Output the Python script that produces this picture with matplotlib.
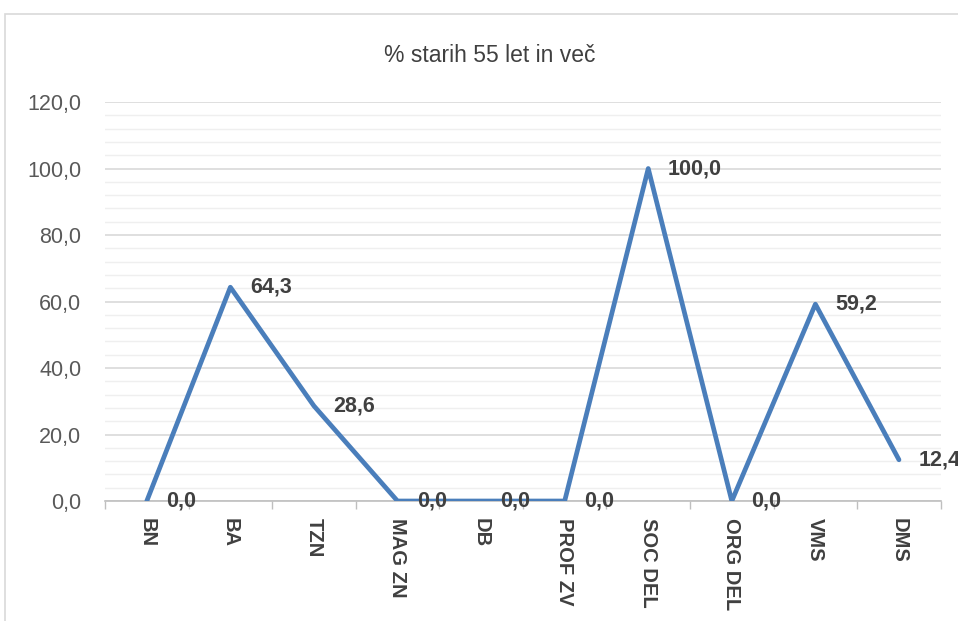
import matplotlib
matplotlib.use("Agg")
import matplotlib.pyplot as plt
from matplotlib.patches import Rectangle
import numpy as np

categories = ['BN', 'BA', 'TZN', 'MAG ZN', 'DB', 'PROF ZV', 'SOC DEL', 'ORG DEL', 'VMS', 'DMS']
values = [0.0, 64.3, 28.6, 0.0, 0.0, 0.0, 100.0, 0.0, 59.2, 12.4]
title = '% starih 55 let in več'

plt.rcParams['font.family'] = ['Liberation Sans', 'DejaVu Sans']

fig = plt.figure(figsize=(9.58, 6.21), dpi=100)
ax = fig.add_axes([0.1096, 0.1932, 0.8724, 0.6425])

# chart frame (cut off on the right, like the screenshot)
fig.patches.append(Rectangle((5 / 958, -0.05), 1.2, 1 - 14 / 621 + 0.05,
                             transform=fig.transFigure, fill=False,
                             edgecolor='#d9d9d9', linewidth=1.2))

x = np.arange(len(categories))
ax.plot(x, values, color='#4a7ebb', linewidth=3.4,
        solid_joinstyle='round', solid_capstyle='round', zorder=3)

for xi, v in zip(x, values):
    ax.annotate(f'{v:.1f}'.replace('.', ','), (xi, v), xytext=(14, 0),
                textcoords='offset points', ha='left', va='center',
                fontsize=15.5, fontweight='bold', color='#404040',
                annotation_clip=False, zorder=4)

ax.set_xlim(-0.5, len(categories) - 0.5)
ax.set_ylim(0, 120)
ax.set_yticks(np.arange(0, 121, 20))
ax.set_yticks(np.arange(0, 121, 4), minor=True)
ax.set_yticklabels([f'{t:.1f}'.replace('.', ',') for t in np.arange(0, 121, 20)])
ax.grid(axis='y', which='major', color='#d9d9d9', linewidth=1.2)
ax.grid(axis='y', which='minor', color='#efefef', linewidth=1.0)
ax.set_axisbelow(True)

ax.set_xticks(x)
ax.set_xticklabels(categories, rotation=-90, fontsize=14.5, fontweight='bold',
                   color='#404040', va='top', ha='center')
ax.set_xticks(np.arange(-0.5, len(categories)), minor=True)
ax.tick_params(axis='x', which='major', length=0, pad=12)
ax.tick_params(axis='x', which='minor', length=6, color='#bfbfbf', width=1)
ax.tick_params(axis='y', which='both', length=0, pad=17, labelsize=15.5,
               labelcolor='#595959')

for side in ['top', 'right', 'left']:
    ax.spines[side].set_visible(False)
ax.spines['bottom'].set_color('#bfbfbf')
ax.spines['bottom'].set_linewidth(1.2)

fig.text(0.511, 1 - 55 / 621, title, ha='center', va='center',
         fontsize=16.5, color='#404040')

fig.savefig('out.png', dpi=100)
